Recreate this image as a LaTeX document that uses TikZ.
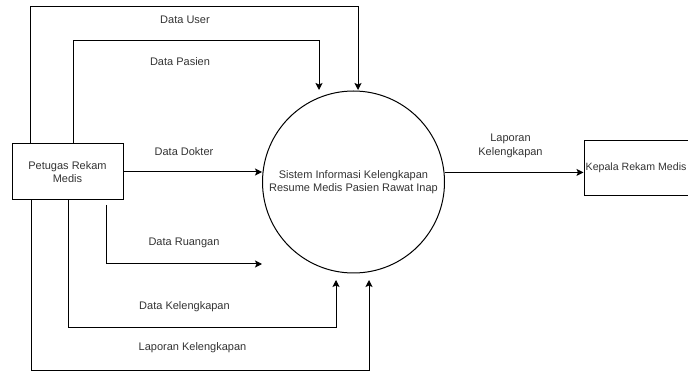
\documentclass[tikz,border=0pt]{standalone}
\usepackage{fontspec}
\setmainfont{Liberation Sans}
\usetikzlibrary{arrows.meta}

\tikzset{
  entity/.style={draw, line width=1pt, minimum width=111pt, minimum height=56pt,
    align=center, inner sep=1pt, font=\fontsize{11}{13}\selectfont, text=black!80},
  process/.style={draw, circle, line width=1pt, minimum size=182pt, inner sep=0pt,
    align=center, font=\fontsize{11}{13.5}\selectfont, text=black!80},
  flow/.style={line width=1pt, -{Stealth[length=7pt,width=7pt,inset=1.5pt]}},
  lbl/.style={align=center, inner sep=0pt, font=\fontsize{11}{14}\selectfont, text=black!80}
}

\begin{document}
\begin{tikzpicture}[x=1pt, y=-1pt]
  \useasboundingbox (0,0) rectangle (688,371);
  \clip (0,0) rectangle (688,371);

  % external entities and the process
  \node[entity] (petugas) at (67.5,172) {Petugas Rekam\\Medis};
  \node[process] (sistem) at (353.5,182)
    {Sistem Informasi Kelengkapan\\Resume Medis Pasien Rawat Inap};
  \node[draw, line width=1pt, minimum width=116pt, minimum height=55pt] (kepala)
    at (642,168.5) {};
  \node[anchor=west, inner sep=0pt, font=\fontsize{10.6}{13}\selectfont, text=black!80]
    (kepalatext) at (585.5,168) {Kepala Rekam Medis};

  % bend points and free arrow ends
  \coordinate (userTop) at (30,7);
  \coordinate (userIn)  at (358,90);
  \coordinate (pasTop)  at (73,41);
  \coordinate (pasIn)   at (319,90);
  \coordinate (dokIn)   at (262,172);
  \coordinate (ruStart) at (106,205);
  \coordinate (ruIn)    at (262,264);
  \coordinate (klBot)   at (68,327);
  \coordinate (klIn)    at (336,280);
  \coordinate (lapBot)  at (31,370);
  \coordinate (lapIn)   at (369,280);

  % data flows
  \draw[flow] (petugas.north -| userTop) -- (userTop) -| (userIn);
  \draw[flow] (petugas.north -| pasTop) -- (pasTop) -| (pasIn);
  \draw[flow] (petugas.east) -- (dokIn);
  \draw[flow] (ruStart) |- (ruIn);
  \draw[flow] (petugas.south -| klBot) -- (klBot) -| (klIn);
  \draw[flow] (petugas.south -| lapBot) -- (lapBot) -| (lapIn);
  \draw[flow] (sistem.6.3) -- (sistem.6.3 -| kepala.west);

  % flow labels
  \node[lbl] (lUser)  at (185,20)  {Data User};
  \node[lbl] (lPas)   at (180,62)  {Data Pasien};
  \node[lbl] (lDok)   at (184,152) {Data Dokter};
  \node[lbl] (lRu)    at (184,243) {Data Ruangan};
  \node[lbl] (lKl)    at (184.5,307) {Data Kelengkapan};
  \node[lbl] (lLap)   at (192.5,348) {Laporan Kelengkapan};
  \node[lbl] (lLapR)  at (510.5,146) {Laporan\\Kelengkapan};
\end{tikzpicture}
\end{document}
